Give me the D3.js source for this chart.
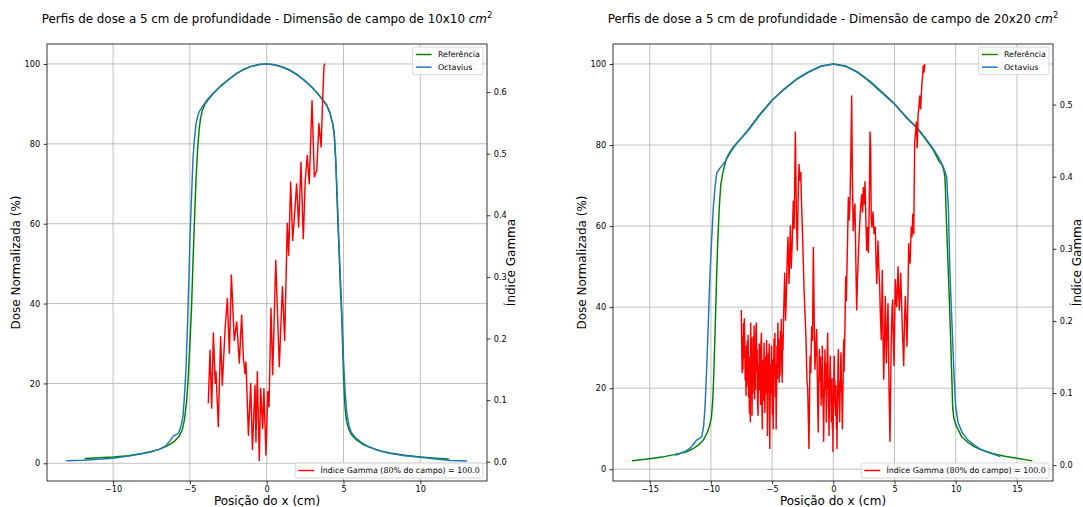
<!DOCTYPE html>
<html><head><meta charset="utf-8">
<script src="https://cdn.jsdelivr.net/npm/d3@7"></script>
<style>body{margin:0;background:#fff}svg{display:block}text{font-family:"DejaVu Sans",sans-serif;fill:#000}</style>
</head><body><svg id="c" width="1083" height="507"></svg>
<script>
// ---------- data: 10x10 field ----------
const ref10X=[-11.8,-11,-10,-9,-8,-7.5,-7,-6.5,-6,-5.7,-5.5,-5.35,-5.2,-5.1,-5,-4.9,-4.8,-4.7,-4.6,-4.5,-4.4,-4.3,-4.2,-4,-3.5,-3,-2.5,-2,-1.5,-1,-0.5,0,0.5,1,1.5,2,2.5,3,3.5,3.9,4.1,4.3,4.4,4.5,4.6,4.7,4.8,4.9,5,5.1,5.2,5.35,5.5,5.8,6.2,6.5,7,7.5,8,9,10,11,11.8];
const ref10Y=[1.2,1.4,1.6,1.9,2.5,3.0,3.5,4.3,5.5,6.8,8.3,11,16,22,30,38,50,61,71,78.5,83.5,86.5,88.2,90.1,92.5,94.4,96.0,97.5,98.6,99.4,99.85,100,99.8,99.2,98.4,97.3,95.8,94.0,91.8,89.8,88,85,82,75,64,54,44,35,22,14,10.5,8.5,7.3,6.0,4.9,4.3,3.6,3.0,2.6,2.0,1.6,1.3,1.1];
const oct10X=[-13,-12,-11,-10,-9,-8,-7.5,-7,-6.6,-6.3,-6.08,-5.75,-5.6,-5.45,-5.35,-5.25,-5.15,-5.05,-5,-4.9,-4.8,-4.73,-4.6,-4.45,-4.34,-4.1,-3.9,-3.5,-3,-2.5,-2,-1.5,-1,-0.5,0,0.5,1,1.5,2,2.5,3,3.5,3.9,4.1,4.3,4.4,4.5,4.6,4.7,4.8,4.9,5,5.1,5.2,5.35,5.5,5.8,6.2,6.5,7,7.5,8,9,10,11,12,13];
const oct10Y=[0.65,0.75,1.0,1.25,1.8,2.5,2.9,3.5,4.3,5.6,6.8,7.5,9,11.7,17,24,35,48,56,66,76,80,85,87.5,88.4,89.8,90.9,92.6,94.5,96.1,97.5,98.7,99.4,99.85,100,99.8,99.3,98.5,97.2,95.7,93.9,91.7,89.6,87.8,85,82.5,76,66,56,46,37,26,18,13,9.5,7.8,6.3,5.1,4.4,3.6,3.0,2.5,1.9,1.5,1.1,0.7,0.6];
// gamma index points [x, gamma]
const gamma10=[[-3.80,0.095],[-3.69,0.181],[-3.58,0.087],[-3.47,0.209],[-3.35,0.127],[-3.30,0.146],[-3.15,0.057],[-3.00,0.203],[-2.89,0.124],[-2.71,0.214],
[-2.56,0.265],[-2.43,0.176],[-2.30,0.303],[-2.11,0.197],[-1.95,0.227],[-1.78,0.160],[-1.63,0.238],[-1.52,0.168],[-1.41,0.143],[-1.35,0.162],
[-1.19,0.043],[-1.04,0.127],[-0.93,0.020],[-0.76,0.124],[-0.70,0.032],[-0.61,0.146],[-0.48,0.002],[-0.39,0.119],[-0.26,0.054],[-0.18,0.119],
[-0.05,0.011],[0.07,0.114],[0.15,0.089],[0.28,0.249],[0.39,0.141],[0.59,0.327],[0.82,0.154],[1.02,0.284],[1.17,0.197],[1.34,0.387],
[1.43,0.335],[1.56,0.454],[1.69,0.359],[1.82,0.403],[1.95,0.451],[2.08,0.381],[2.23,0.486],[2.38,0.362],[2.51,0.457],[2.64,0.497],
[2.77,0.451],[2.95,0.586],[3.10,0.462],[3.26,0.473],[3.40,0.549],[3.54,0.511],[3.64,0.586],[3.73,0.643],[3.80,0.646]];

// ---------- data: 20x20 field ----------
const ref20X=[-16.4,-15,-14,-13,-12,-11.5,-11,-10.6,-10.3,-10.1,-9.95,-9.85,-9.78,-9.7,-9.62,-9.53,-9.43,-9.31,-9.2,-9.04,-8.8,-8.58,-8.2,-7.76,-7,-6,-5,-4,-3,-2,-1,0,1,2,3,4,4.9,6,6.8,7.5,8.17,8.6,8.9,9.05,9.12,9.17,9.2,9.3,9.4,9.5,9.59,9.68,9.75,9.85,10.08,10.49,11,11.5,12,13,14,15,16.2];
const ref20Y=[2.1,2.6,3.0,3.6,4.3,5.0,6.0,7.3,9.0,10.8,13,17,22,30,38,48,57,65,70,73,76,77.6,79.4,80.9,83.6,87.6,91.1,93.8,96.2,98.0,99.4,100,99.5,98.0,95.7,93.0,90.5,86.8,84.3,81.6,78.8,76.2,75,73.5,72,68.5,64.8,56.5,48.4,40,32,23,15.4,12.5,10.5,8.0,6.6,5.6,4.9,3.9,3.2,2.7,2.1];
const oct20X=[-12.9,-12.5,-12,-11.7,-11.4,-11.16,-10.75,-10.6,-10.48,-10.37,-10.26,-10.17,-10.07,-9.95,-9.8,-9.65,-9.53,-9.26,-8.85,-8.4,-7.9,-7,-6,-5,-4,-3,-2,-1,0,1,2,3,4,5,6,7,8,8.6,9,9.26,9.33,9.4,9.47,9.53,9.64,9.75,9.88,10,10.2,10.49,11,11.5,12,12.5,13,13.6];
const oct20Y=[3.5,3.9,4.6,5.2,6.3,7.2,8.0,10.5,15.4,23,31.9,40,48.4,56,64.8,70,73,74.3,75.9,78.2,80.4,83.4,87.4,91.0,93.9,96.3,98.1,99.5,100,99.4,97.9,95.5,92.8,90.1,86.6,83.8,79.8,77,74.5,72.2,68,64.8,56,48.4,40,31.9,22,15.4,11.5,9.3,7.2,6.0,5.0,4.3,3.8,3.2];
const gamma20=[
[-7.52,.215],[-7.48,.160],[-7.45,.128],[-7.41,.178],[-7.38,.133],[-7.34,.196],[-7.31,.150],[-7.27,.203],[-7.24,.176],[-7.20,.118],
[-7.17,.140],[-7.13,.097],[-7.10,.165],[-7.06,.110],[-7.03,.172],[-6.99,.128],[-6.96,.180],[-6.92,.095],[-6.89,.120],[-6.85,.072],
[-6.82,.150],[-6.78,.060],[-6.75,.197],[-6.71,.138],[-6.68,.176],[-6.64,.069],[-6.61,.130],[-6.57,.100],[-6.54,.178],[-6.50,.140],
[-6.47,.193],[-6.43,.092],[-6.40,.150],[-6.36,.105],[-6.33,.185],[-6.29,.197],[-6.26,.130],[-6.22,.160],[-6.19,.085],[-6.15,.069],
[-6.12,.140],[-6.08,.105],[-6.05,.168],[-6.01,.160],[-5.98,.118],[-5.94,.084],[-5.91,.170],[-5.87,.183],[-5.84,.095],[-5.80,.050],
[-5.77,.120],[-5.73,.145],[-5.70,.090],[-5.66,.169],[-5.63,.130],[-5.59,.073],[-5.56,.110],[-5.52,.150],[-5.49,.100],[-5.45,.173],
[-5.42,.120],[-5.38,.041],[-5.35,.095],[-5.31,.155],[-5.28,.120],[-5.24,.168],[-5.21,.060],[-5.19,.023],[-5.16,.090],[-5.12,.140],
[-5.09,.100],[-5.05,.165],[-5.02,.120],[-4.98,.070],[-4.95,.145],[-4.91,.050],[-4.88,.120],[-4.84,.175],[-4.81,.130],[-4.77,.183],
[-4.74,.095],[-4.70,.140],[-4.67,.050],[-4.63,.110],[-4.60,.165],[-4.56,.120],[-4.53,.197],[-4.49,.140],[-4.46,.175],[-4.42,.115],
[-4.39,.150],[-4.35,.125],[-4.32,.185],[-4.28,.150],[-4.25,.202],[-4.21,.140],[-4.18,.115],[-4.14,.180],[-4.11,.160],[-4.07,.200],
[-4.05,.215],[-3.97,.266],[-3.90,.201],[-3.84,.234],[-3.77,.284],[-3.70,.316],[-3.62,.252],[-3.56,.295],[-3.51,.332],[-3.44,.273],
[-3.37,.302],[-3.27,.366],[-3.20,.328],[-3.10,.462],[-3.02,.351],[-2.94,.298],[-2.87,.373],[-2.80,.417],[-2.72,.395],[-2.66,.406],
[-2.61,.371],[-2.50,.312],[-2.39,.243],[-2.30,.206],[-2.23,.173],[-2.15,.117],[-2.09,.105],[-1.99,.023],[-1.90,.151],[-1.84,.128],
[-1.77,.192],[-1.70,.173],[-1.63,.302],[-1.56,.201],[-1.50,.133],[-1.43,.162],[-1.36,.188],
[-1.30,.117],[-1.27,.080],[-1.23,.046],[-1.20,.095],[-1.18,.117],[-1.16,.140],[-1.14,.160],[-1.11,.130],[-1.07,.117],[-1.04,.150],
[-1.00,.083],[-0.97,.110],[-0.95,.128],[-0.92,.095],[-0.90,.165],[-0.87,.120],[-0.84,.089],[-0.81,.060],[-0.79,.033],[-0.76,.080],
[-0.73,.106],[-0.70,.140],[-0.68,.160],[-0.65,.120],[-0.62,.106],[-0.60,.140],[-0.57,.060],[-0.54,.095],[-0.51,.128],[-0.49,.160],
[-0.46,.183],[-0.43,.130],[-0.40,.106],[-0.37,.070],[-0.35,.041],[-0.32,.080],[-0.30,.106],[-0.27,.140],[-0.25,.151],[-0.22,.100],
[-0.19,.117],[-0.16,.060],[-0.13,.074],[-0.10,.120],[-0.08,.050],[-0.05,.100],[-0.03,.019],[0.00,.070],[0.03,.089],[0.05,.130],
[0.08,.151],[0.10,.100],[0.13,.117],[0.16,.080],[0.19,.069],[0.22,.110],[0.25,.050],[0.27,.090],[0.30,.023],[0.33,.070],
[0.36,.095],[0.38,.140],[0.41,.160],[0.44,.110],[0.46,.117],[0.49,.085],[0.52,.060],[0.55,.100],[0.58,.106],[0.60,.140],
[0.63,.156],[0.66,.120],[0.69,.106],[0.71,.080],[0.74,.050],[0.77,.090],[0.80,.117],[0.82,.150],[0.85,.174],[0.88,.130],
[0.90,.150],[0.96,.197],[1.01,.261],[1.06,.228],[1.12,.275],[1.17,.317],[1.23,.371],[1.30,.340],[1.36,.362],[1.43,.423],
[1.50,.512],[1.56,.395],[1.63,.325],[1.70,.351],[1.77,.362],[1.84,.284],[1.91,.215],[1.97,.256],[2.04,.288],[2.11,.317],
[2.18,.343],[2.25,.362],[2.32,.375],[2.39,.351],[2.45,.385],[2.52,.362],[2.59,.393],[2.66,.340],[2.73,.298],[2.80,.330],
[2.86,.295],[2.93,.351],[3.00,.462],[3.05,.440],[3.10,.340],[3.16,.330],[3.24,.351],[3.33,.321],[3.43,.330],[3.49,.284],
[3.55,.252],[3.65,.311],[3.72,.273],[3.79,.247],[3.85,.206],[3.92,.174],[4.00,.270],[4.06,.184],[4.12,.119],[4.18,.173],
[4.25,.234],[4.29,.184],[4.33,.142],[4.40,.189],[4.47,.224],[4.51,.162],[4.55,.110],[4.63,.033],[4.69,.117],[4.74,.179],
[4.80,.217],[4.85,.229],[4.90,.173],[4.96,.138],[5.02,.206],[5.07,.257],[5.13,.228],[5.18,.220],[5.24,.251],[5.29,.275],
[5.34,.239],[5.39,.215],[5.45,.239],[5.51,.266],[5.57,.228],[5.64,.188],[5.70,.162],[5.75,.138],[5.81,.195],[5.88,.234],
[5.95,.201],[6.02,.165],[6.09,.228],[6.16,.307],[6.21,.284],[6.27,.280],[6.32,.306],[6.37,.330],[6.43,.317],[6.49,.348],
[6.53,.328],[6.57,.321],[6.65,.448],[6.72,.462],[6.78,.476],[6.86,.440],[6.92,.485],[6.99,.495],[7.06,.512],[7.14,.494],
[7.20,.517],[7.25,.531],[7.30,.540],[7.35,.554],[7.41,.545],[7.47,.556]];

// ---------- ticks & labels ----------
const xTicks10=[-10,-5,0,5,10];
const xTicks20=[-15,-10,-5,0,5,10,15];
const doseTicks=[0,20,40,60,80,100];
const gamTicks10=[0,0.1,0.2,0.3,0.4,0.5,0.6];
const gamTicks20=[0,0.1,0.2,0.3,0.4,0.5];
const fieldSizes=["10x10","20x20"];
const seriesNames=["Referência","Octavius"];
const gammaLabel="Índice Gamma (80% do campo) = 100.0";

const svg=d3.select('#c');
const FS_TICK=8.2,FS_LAB=12,FS_TITLE=11.9,FS_LEG=7.9;
const C_REF='#008000',C_OCT='#1f77b4',C_GAM='#ff0000',LW=1.45;

function legend(g,items,box){
  const fs=FS_LEG,pad=0.4*fs,hl=2*fs,htp=0.8*fs,rowH=fs*1.1,ls=0.5*fs;
  const lg=g.append('g');
  const rect=lg.append('rect');
  const texts=items.map(it=>lg.append('text').attr('font-size',fs).text(it.label));
  const tw=d3.max(texts,t=>t.node().getComputedTextLength());
  const w=pad*2+hl+htp+tw, h=pad*2+items.length*rowH+(items.length-1)*ls;
  const x0=box.right-w, y0=box.anchor==='top'?box.top:box.bottom-h;
  rect.attr('x',x0).attr('y',y0).attr('width',w).attr('height',h).attr('rx',2)
    .attr('fill','#fff').attr('fill-opacity',0.8).attr('stroke','#cccccc').attr('stroke-width',0.8);
  items.forEach((it,i)=>{
    const cy=y0+pad+rowH/2+i*(rowH+ls);
    lg.insert('line','text').attr('x1',x0+pad).attr('x2',x0+pad+hl).attr('y1',cy).attr('y2',cy)
      .attr('stroke',it.color).attr('stroke-width',LW);
    texts[i].attr('x',x0+pad+hl+htp).attr('y',cy+0.36*fs);
  });
}

function panel(p){
  const x=d3.scaleLinear().domain(p.xDom).range([p.l,p.r]);
  const y=d3.scaleLinear().domain(p.yDom).range([p.b,p.t]);
  const yg=d3.scaleLinear().domain(p.gDom).range([p.b,p.t]);
  const g=svg.append('g');
  const clipId='clip'+p.key;
  svg.append('clipPath').attr('id',clipId).append('rect')
    .attr('x',p.l).attr('y',p.t).attr('width',p.r-p.l).attr('height',p.b-p.t);
  // grid
  g.append('g').selectAll('line').data(p.xTicks).join('line')
    .attr('x1',d=>x(d)).attr('x2',d=>x(d)).attr('y1',p.t).attr('y2',p.b)
    .attr('stroke','#b0b0b0').attr('stroke-width',0.8);
  g.append('g').selectAll('line').data(doseTicks).join('line')
    .attr('y1',d=>y(d)).attr('y2',d=>y(d)).attr('x1',p.l).attr('x2',p.r)
    .attr('stroke','#b0b0b0').attr('stroke-width',0.8);
  const mk=(xs,ys,sy)=>d3.line().x(i=>x(xs[i])).y(i=>sy(ys[i]))(d3.range(Math.min(xs.length,ys.length)));
  const lines=g.append('g').attr('clip-path',`url(#${clipId})`).attr('fill','none')
    .attr('stroke-width',LW).attr('stroke-linejoin','round').attr('stroke-linecap','square');
  lines.append('path').attr('d',mk(p.refX,p.refY,y)).attr('stroke',C_REF);
  lines.append('path').attr('d',mk(p.octX,p.octY,y)).attr('stroke',C_OCT);
  // axes
  const styleAxis=a=>{a.select('.domain').remove();
    a.selectAll('.tick line').attr('stroke','#000').attr('stroke-width',0.8);
    a.selectAll('text').attr('font-size',FS_TICK).attr('font-family','"DejaVu Sans",sans-serif').attr('fill','#000');
    a.attr('font-size',null).attr('font-family',null);};
  g.append('g').attr('transform',`translate(0,${p.b})`)
    .call(d3.axisBottom(x).tickValues(p.xTicks).tickSize(3.4).tickPadding(1.5).tickFormat(d3.format('d'))).call(styleAxis);
  g.append('g').attr('transform',`translate(${p.l},0)`)
    .call(d3.axisLeft(y).tickValues(doseTicks).tickSize(3.4).tickPadding(3.4).tickFormat(d3.format('d'))).call(styleAxis);
  legend(g,[{label:seriesNames[0],color:C_REF},{label:seriesNames[1],color:C_OCT}],{right:p.r-4,top:p.t+3,anchor:'top'});
  // twin axis (gamma)
  const g2=svg.append('g');
  g2.append('g').attr('clip-path',`url(#${clipId})`).append('path')
    .attr('d',d3.line().x(d=>x(d[0])).y(d=>yg(d[1]))(p.gamma)).attr('fill','none').attr('stroke',C_GAM)
    .attr('stroke-width',LW).attr('stroke-linejoin','round');
  g2.append('g').attr('transform',`translate(${p.r},0)`)
    .call(d3.axisRight(yg).tickValues(p.gamTicks).tickSize(3.4).tickPadding(3.4).tickFormat(d3.format('.1f'))).call(styleAxis);
  g2.append('rect').attr('x',p.l).attr('y',p.t).attr('width',p.r-p.l).attr('height',p.b-p.t)
    .attr('fill','none').attr('stroke','#000').attr('stroke-width',0.8);
  legend(g2,[{label:gammaLabel,color:C_GAM}],{right:p.r-4,bottom:p.b-3,anchor:'bottom'});
  // labels
  const cx=(p.l+p.r)/2, cy=(p.t+p.b)/2;
  const t=svg.append('text').attr('x',cx).attr('y',23).attr('text-anchor','middle').attr('font-size',FS_TITLE);
  t.append('tspan').text(`Perfis de dose a 5 cm de profundidade - Dimensão de campo de ${p.field} `);
  t.append('tspan').attr('font-style','italic').text('cm');
  t.append('tspan').attr('font-size',FS_TITLE*0.7).attr('dy',-4.8).text('2');
  svg.append('text').attr('x',cx).attr('y',504.6).attr('text-anchor','middle').attr('font-size',FS_LAB).text('Posição do x (cm)');
  svg.append('text').attr('transform',`translate(${p.l-27},${cy}) rotate(-90)`).attr('text-anchor','middle').attr('font-size',FS_LAB).text('Dose Normalizada (%)');
  svg.append('text').attr('transform',`translate(${p.r+28},${cy}) rotate(-90)`).attr('text-anchor','middle').attr('font-size',FS_LAB).text('Índice Gamma');
}

panel({key:'a',field:fieldSizes[0],l:47,r:487,t:44,b:481,xDom:[-14.3,14.34],yDom:[-4.43,105.0],gDom:[-0.0313,0.678],
  xTicks:xTicks10,gamTicks:gamTicks10,refX:ref10X,refY:ref10Y,octX:oct10X,octY:oct10Y,gamma:gamma10});
panel({key:'b',field:fieldSizes[1],l:613,r:1053,t:44,b:481,xDom:[-18.0,17.95],yDom:[-2.9,104.93],gDom:[-0.022,0.584],
  xTicks:xTicks20,gamTicks:gamTicks20,refX:ref20X,refY:ref20Y,octX:oct20X,octY:oct20Y,gamma:gamma20});
</script></body></html>
